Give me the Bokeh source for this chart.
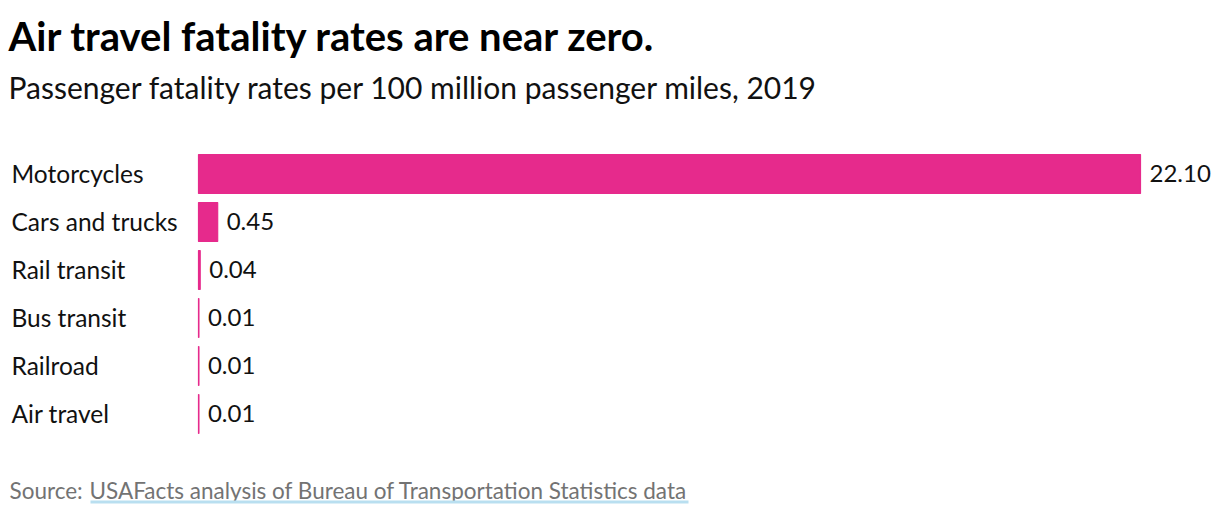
from bokeh.plotting import figure
from bokeh.models import Range1d, Label, ColumnDataSource, BoxAnnotation
from bokeh.core.properties import value
from bokeh.embed import file_html
from bokeh.resources import INLINE

categories = ["Motorcycles", "Cars and trucks", "Rail transit", "Bus transit", "Railroad", "Air travel"]
rates = [22.10, 0.45, 0.04, 0.01, 0.01, 0.01]
rate_labels = ["22.10", "0.45", "0.04", "0.01", "0.01", "0.01"]

FONT = "Lato"
BAR = "#e62a8c"

n = len(categories)
ypos = [n - 1 - i for i in range(n)]
src = ColumnDataSource(dict(cat=categories, rate=rates, lab=rate_labels, y=ypos))

W, H = 1220, 514
x0 = 198
px_per_unit = (1140 - x0) / 22.10
row = 48.0
bottom_px = 100.5
p = figure(width=W, height=H, output_backend="svg", toolbar_location=None,
           x_range=Range1d(-x0 / px_per_unit, (W - x0) / px_per_unit),
           y_range=Range1d(-bottom_px / row, -bottom_px / row + H / row),
           min_border=0, outline_line_color=None)
p.axis.visible = False
p.grid.visible = False
p.background_fill_color = "white"
p.border_fill_color = "white"

p.hbar(y="y", right="rate", left=0, height=39 / row, source=src,
       fill_color=BAR, line_color=BAR, line_width=1.2)

p.text(x=0, y="y", text="cat", source=src, x_offset=-187, y_offset=-1,
       text_font=value(FONT), text_font_size="24.5px", text_color="#111111",
       text_align="left", text_baseline="middle")
p.text(x="rate", y="y", text="lab", source=src, x_offset=9, y_offset=-1,
       text_font=value(FONT), text_font_size="24px", text_color="#111111",
       text_align="left", text_baseline="middle")

p.add_layout(Label(x=8, y=H - 35, x_units="screen", y_units="screen",
                   text="Air travel fatality rates are near zero.",
                   text_font=FONT, text_font_size="40px", text_font_style="bold",
                   text_color="#000000", text_baseline="alphabetic"))
p.add_layout(Label(x=8, y=H - 86, x_units="screen", y_units="screen",
                   text="Passenger fatality rates per 100 million passenger miles, 2019",
                   text_font=FONT, text_font_size="30px",
                   text_color="#111111", text_baseline="alphabetic"))
p.add_layout(Label(x=9, y=H - 490, x_units="screen", y_units="screen",
                   text="Source:",
                   text_font=FONT, text_font_size="22.5px",
                   text_color="#737373", text_baseline="alphabetic"))
p.add_layout(Label(x=89, y=H - 490, x_units="screen", y_units="screen",
                   text="USAFacts analysis of Bureau of Transportation Statistics data",
                   text_font=FONT, text_font_size="22.5px",
                   text_color="#737373", text_baseline="alphabetic"))
p.add_layout(BoxAnnotation(left=90, right=688, bottom=H - 503, top=H - 500,
                           left_units="screen", right_units="screen",
                           bottom_units="screen", top_units="screen",
                           fill_color="#b9dff0", fill_alpha=1, line_color=None))

open("out.html", "w").write(file_html(p, INLINE))
